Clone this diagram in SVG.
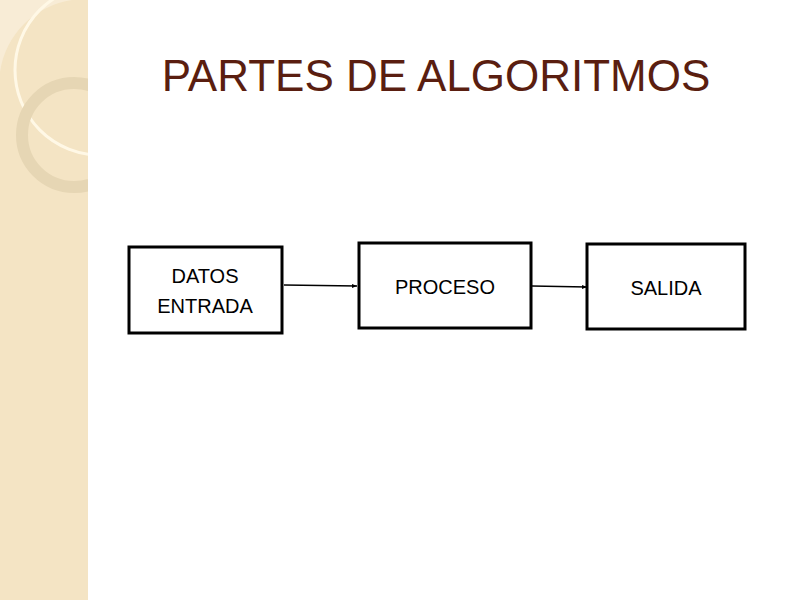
<svg xmlns="http://www.w3.org/2000/svg" width="800" height="600" viewBox="0 0 800 600">
<defs>
<style>
.box{fill:#fff;stroke:#000;stroke-width:3}
.t{font-family:"Liberation Sans",Arial,sans-serif;font-size:20px;fill:#000;text-anchor:middle}
.c{stroke:#000;stroke-width:1.5;fill:none}
</style>
<clipPath id="side"><rect x="0" y="0" width="88" height="600"/></clipPath>
<marker id="ah" markerWidth="6" markerHeight="6" refX="5" refY="3" orient="auto" markerUnits="userSpaceOnUse"><path d="M0,1 L5,3 L0,5Z" fill="#000"/></marker>
</defs>
<rect width="800" height="600" fill="#fff"/>
<g id="sidebar" clip-path="url(#side)">
<rect x="0" y="0" width="88" height="600" fill="#f4e4c4"/>
<path d="M0,0 H72 A85,85 0 0 0 0,72 Z" fill="#f8ecd6"/>
<circle cx="100" cy="70" r="85" fill="none" stroke="#fff8e6" stroke-width="3"/>
<circle cx="74" cy="135" r="52" fill="none" stroke="#e6d6b4" stroke-width="12"/>
</g>
<text x="436" y="91" font-family="Liberation Sans,Arial,sans-serif" font-size="44" fill="#5a1e10" text-anchor="middle">PARTES DE ALGORITMOS</text>
<g id="connectors">
<line class="c" x1="284" y1="285" x2="357" y2="286" marker-end="url(#ah)"/>
<line class="c" x1="532" y1="286" x2="587" y2="287" marker-end="url(#ah)"/>
</g>
<g id="entrada"><rect class="box" x="129" y="247" width="153" height="86"/><text class="t" x="205" y="283">DATOS</text><text class="t" x="205" y="313">ENTRADA</text></g>
<g id="proceso"><rect class="box" x="359" y="243" width="172" height="85"/><text class="t" x="445" y="294">PROCESO</text></g>
<g id="salida"><rect class="box" x="587" y="244" width="158" height="85"/><text class="t" x="666" y="295">SALIDA</text></g>
</svg>
